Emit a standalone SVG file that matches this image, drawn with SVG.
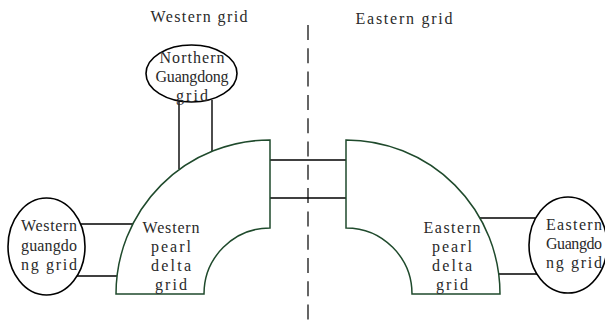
<svg xmlns="http://www.w3.org/2000/svg" width="605" height="320" viewBox="0 0 605 320">
  <style>
    .lbl { font-family: "Liberation Serif", "DejaVu Serif", serif; font-size: 16px; fill: #2a2a2a; }
    .region { fill: #ffffff; stroke: #1f4a2c; stroke-width: 1.5; }
    .grid { fill: #ffffff; stroke: #000000; stroke-width: 1.6; }
    .link { stroke: #000000; stroke-width: 1.4; fill: none; }
    .divider { stroke: #000000; stroke-width: 1.2; stroke-dasharray: 15 8.3; fill: none; }
  </style>

  <!-- area headings -->
  <text class="lbl" x="199" y="22" text-anchor="middle" textLength="97" lengthAdjust="spacing">Western grid</text>
  <text class="lbl" x="404" y="24" text-anchor="middle" textLength="97" lengthAdjust="spacing">Eastern grid</text>

  <!-- boundary between the two grids -->
  <line class="divider" x1="308" y1="25" x2="308" y2="320"/>

  <!-- tie lines -->
  <g id="connectors">
    <line class="link" x1="179" y1="100" x2="179" y2="169"/>
    <line class="link" x1="212" y1="100" x2="212" y2="151"/>
    <line class="link" x1="270" y1="160" x2="346" y2="160"/>
    <line class="link" x1="270" y1="198" x2="346" y2="198"/>
    <line class="link" x1="79" y1="224" x2="134" y2="224"/>
    <line class="link" x1="76" y1="276" x2="117" y2="276"/>
    <line class="link" x1="480" y1="218" x2="535" y2="218"/>
    <line class="link" x1="499" y1="274" x2="538" y2="274"/>
  </g>

  <!-- Western pearl delta grid -->
  <g id="western-pearl-delta">
    <path class="region" d="M116,294 A154,154 0 0 1 270,140 L270,228 A66,66 0 0 0 204,294 Z"/>
    <text class="lbl" x="171" y="233" text-anchor="middle" textLength="57" lengthAdjust="spacing">Western</text>
    <text class="lbl" x="171" y="252" text-anchor="middle" textLength="40" lengthAdjust="spacing">pearl</text>
    <text class="lbl" x="171" y="271" text-anchor="middle" textLength="40" lengthAdjust="spacing">delta</text>
    <text class="lbl" x="171" y="290" text-anchor="middle" textLength="32" lengthAdjust="spacing">grid</text>
  </g>

  <!-- Eastern pearl delta grid -->
  <g id="eastern-pearl-delta">
    <path class="region" d="M500,294 A154,154 0 0 0 346,140 L346,228 A66,66 0 0 1 412,294 Z"/>
    <text class="lbl" x="452" y="233" text-anchor="middle" textLength="57" lengthAdjust="spacing">Eastern</text>
    <text class="lbl" x="452" y="252" text-anchor="middle" textLength="40" lengthAdjust="spacing">pearl</text>
    <text class="lbl" x="452" y="271" text-anchor="middle" textLength="40" lengthAdjust="spacing">delta</text>
    <text class="lbl" x="452" y="290" text-anchor="middle" textLength="32" lengthAdjust="spacing">grid</text>
  </g>

  <!-- Northern Guangdong grid -->
  <g id="northern-guangdong">
    <ellipse class="grid" cx="191.5" cy="73.5" rx="45.5" ry="28.5"/>
    <text class="lbl" x="192" y="63" text-anchor="middle" textLength="65" lengthAdjust="spacing">Northern</text>
    <text class="lbl" x="192" y="82" text-anchor="middle" textLength="73" lengthAdjust="spacing">Guangdong</text>
    <text class="lbl" x="192" y="101" text-anchor="middle" textLength="32" lengthAdjust="spacing">grid</text>
  </g>

  <!-- Western guangdong grid -->
  <g id="western-guangdong">
    <ellipse class="grid" cx="46.5" cy="246.5" rx="38.5" ry="48.5"/>
    <text class="lbl" x="21" y="231" textLength="56" lengthAdjust="spacing">Western</text>
    <text class="lbl" x="21" y="251" textLength="56" lengthAdjust="spacing">guangdo</text>
    <text class="lbl" x="21" y="270" textLength="56" lengthAdjust="spacing">ng grid</text>
  </g>

  <!-- Eastern Guangdong grid -->
  <g id="eastern-guangdong">
    <ellipse class="grid" cx="568" cy="245" rx="39" ry="48"/>
    <text class="lbl" x="546" y="230" textLength="56" lengthAdjust="spacing">Eastern</text>
    <text class="lbl" x="546" y="249" textLength="56" lengthAdjust="spacing">Guangdo</text>
    <text class="lbl" x="546" y="268" textLength="56" lengthAdjust="spacing">ng grid</text>
  </g>
</svg>
